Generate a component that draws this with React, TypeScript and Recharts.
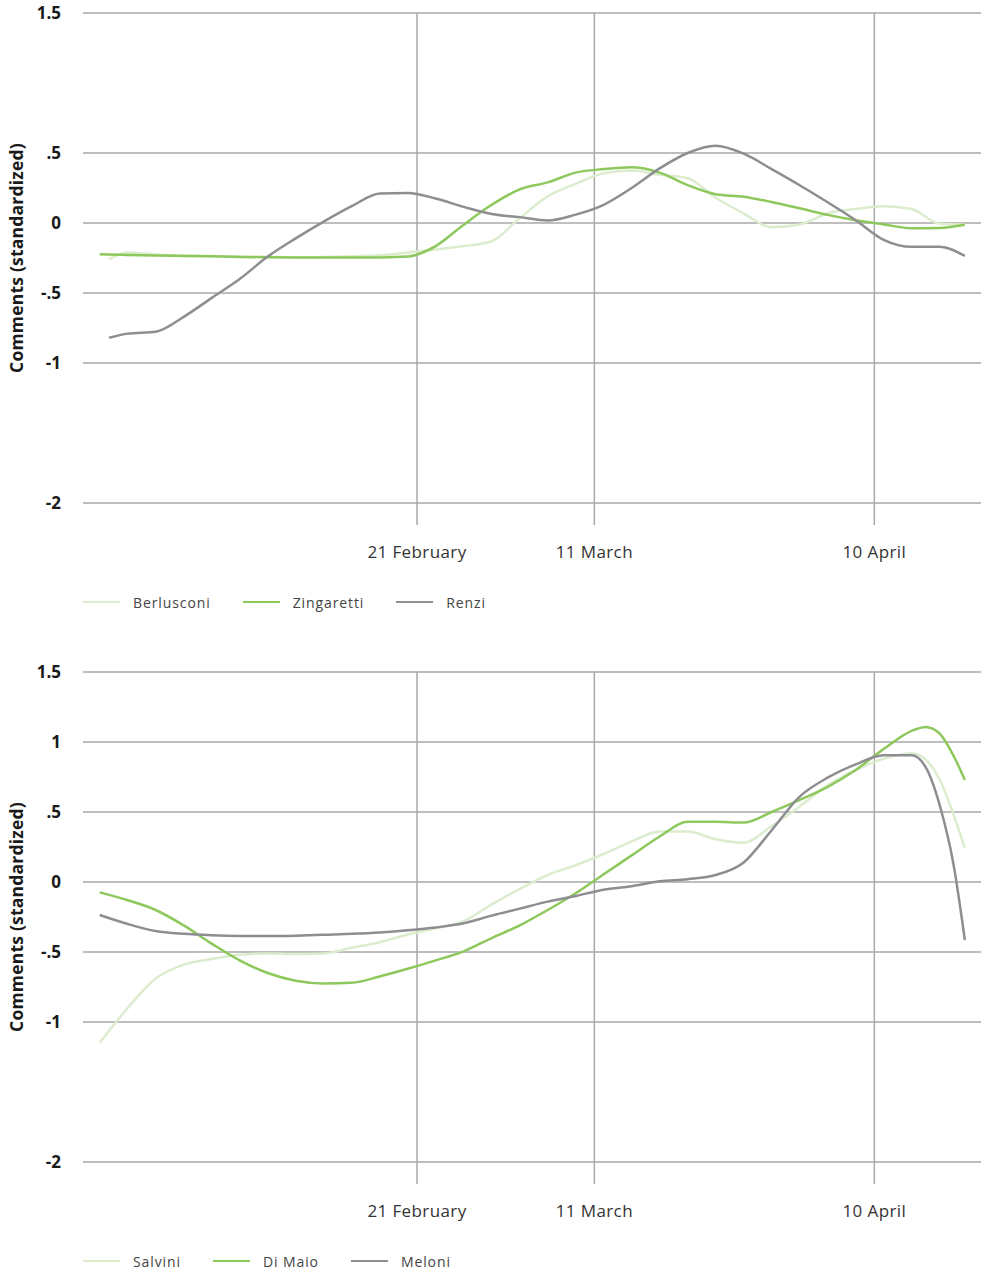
import { LineChart, Line, XAxis, YAxis, CartesianGrid, Legend } from 'recharts'

// day 0 = 21 February 2020
const tickDays = [0, 19, 49]
const tickLabels = ['21 February', '11 March', '10 April']

const topYTicks = [1.5, 0.5, 0, -0.5, -1, -2]
const bottomYTicks = [1.5, 1, 0.5, 0, -0.5, -1, -2]

const topDays = [-34, -33, -31, -28, -25, -22, -19, -16, -13, -10, -7, -4, -1, 2, 5, 8, 11, 14, 17, 20, 23, 26, 29, 32, 35, 38, 41, 44, 47, 50, 53, 56, 58.7]
const berlusconi = [null, -0.26, -0.21, -0.225, -0.232, -0.236, -0.24, -0.243, -0.244, -0.242, -0.238, -0.23, -0.21, -0.19, -0.165, -0.13, 0.035, 0.19, 0.28, 0.355, 0.375, 0.345, 0.32, 0.18, 0.068, -0.03, -0.01, 0.07, 0.1, 0.12, 0.1, -0.005, -0.012]
const zingaretti = [-0.224, -0.225, -0.228, -0.232, -0.235, -0.238, -0.242, -0.245, -0.246, -0.247, -0.247, -0.246, -0.24, -0.165, -0.012, 0.13, 0.24, 0.29, 0.36, 0.385, 0.398, 0.36, 0.27, 0.206, 0.188, 0.15, 0.105, 0.058, 0.02, -0.01, -0.037, -0.035, -0.012]
const renzi = [null, -0.82, -0.79, -0.776, -0.67, -0.535, -0.4, -0.24, -0.11, 0.01, 0.12, 0.21, 0.215, 0.175, 0.115, 0.065, 0.042, 0.018, 0.06, 0.13, 0.25, 0.39, 0.5, 0.552, 0.495, 0.385, 0.27, 0.148, 0.02, -0.12, -0.17, -0.17, -0.235]

const bottomDays = [-34, -31, -28, -25, -22, -19, -16, -13, -10, -7, -4, -1, 2, 5, 8, 11, 14, 17, 20, 23, 26, 29, 32, 35, 38, 41, 44, 47, 50, 53, 54.5, 56, 57.5, 58.7]
const salvini = [-1.148, -0.9, -0.69, -0.59, -0.55, -0.52, -0.51, -0.515, -0.51, -0.47, -0.43, -0.375, -0.33, -0.28, -0.16, -0.05, 0.05, 0.12, 0.2, 0.29, 0.36, 0.36, 0.305, 0.28, 0.4, 0.54, 0.69, 0.8, 0.88, 0.92, 0.875, 0.73, 0.48, 0.241]
const diMaio = [-0.074, -0.13, -0.2, -0.31, -0.44, -0.56, -0.65, -0.705, -0.725, -0.72, -0.675, -0.62, -0.56, -0.495, -0.4, -0.31, -0.2, -0.08, 0.055, 0.19, 0.325, 0.43, 0.43, 0.425, 0.5, 0.586, 0.68, 0.8, 0.95, 1.08, 1.108, 1.06, 0.9, 0.729]
const meloni = [-0.236, -0.3, -0.35, -0.37, -0.38, -0.385, -0.386, -0.383, -0.377, -0.37, -0.36, -0.345, -0.325, -0.295, -0.24, -0.19, -0.14, -0.1, -0.055, -0.03, 0.005, 0.02, 0.05, 0.14, 0.37, 0.61, 0.745, 0.84, 0.905, 0.905, 0.82, 0.55, 0.12, -0.414]

const LIGHT = '#dcecce'
const GREEN = '#8dc85c'
const GREY = '#8e8e92'
const GRID = '#a8a8a8'
const FONT = "'Open Sans', sans-serif"

const tickFmtX = (d: number) => tickLabels[tickDays.indexOf(d)] ?? ''
const tickFmtY = (v: number) => {
  if (v === 0) return '0'
  return String(v).replace(/^(-?)0\./, '$1.')
}

const AxisTitle = ({ viewBox }: any) => {
  const cx = 16
  const cy = viewBox.y + 245
  return (
    <text x={cx} y={cy} transform={`rotate(-90 ${cx} ${cy})`} textAnchor="middle" dominantBaseline="central"
      fontFamily={FONT} fontWeight={700} fontSize={17.5} fill="#1a1a1a" letterSpacing={0.2}>
      Comments (standardized)
    </text>
  )
}

type Series = { name: string; values: (number | null)[]; color: string }

const makeLegend = (series: Series[]) => () => (
  <div style={{ display: 'flex', alignItems: 'center', height: 20, fontFamily: FONT, fontSize: 14, color: '#444', letterSpacing: 0.9 }}>
    {series.map((s) => (
      <div key={s.name} style={{ display: 'flex', alignItems: 'center', marginRight: 32 }}>
        <div style={{ width: 37, height: 2.5, background: s.color, marginRight: 13 }} />
        <span>{s.name}</span>
      </div>
    ))}
  </div>
)

function Panel({ days, series, yTicks, height, bottom }: { days: number[]; series: Series[]; yTicks: number[]; height: number; bottom: number }) {
  const rows = days.map((d, i) => {
    const r: Record<string, number | null> = { day: d }
    series.forEach((s) => { r[s.name] = s.values[i] })
    return r
  })
  return (
    <LineChart width={981} height={height} data={rows} margin={{ top: 13, right: 0, left: 0, bottom }}>
      <CartesianGrid stroke={GRID} strokeWidth={1.5} horizontalValues={yTicks} verticalValues={tickDays} />
      <XAxis dataKey="day" type="number" domain={[-35.79, 60.43]} ticks={tickDays} tickFormatter={tickFmtX}
        axisLine={false} tickLine={false} height={67} tickMargin={15} interval={0}
        tick={{ fontFamily: FONT, fontSize: 17, fill: '#333', letterSpacing: 0.4 }} />
      <YAxis type="number" domain={[-2.157, 1.5]} ticks={yTicks} tickFormatter={tickFmtY} width={83}
        axisLine={false} tickLine={false} tickMargin={16} interval={0} allowDataOverflow
        tick={{ fontFamily: FONT, fontWeight: 700, fontSize: 17, fill: '#1a1a1a' }}
        label={{ content: AxisTitle }} />
      <Legend verticalAlign="bottom" align="left" content={makeLegend(series)} wrapperStyle={{ left: 83, width: 700 }} />
      {series.map((s) => (
        <Line key={s.name} type="monotone" dataKey={s.name} stroke={s.color} strokeWidth={2.5} dot={false}
          activeDot={false} isAnimationActive={false} />
      ))}
    </LineChart>
  )
}

export default function App() {
  const top: Series[] = [
    { name: 'Berlusconi', values: berlusconi, color: LIGHT },
    { name: 'Zingaretti', values: zingaretti, color: GREEN },
    { name: 'Renzi', values: renzi, color: GREY },
  ]
  const bottom: Series[] = [
    { name: 'Salvini', values: salvini, color: LIGHT },
    { name: 'Di Maio', values: diMaio, color: GREEN },
    { name: 'Meloni', values: meloni, color: GREY },
  ]
  return (
    <div style={{ position: 'absolute', top: 0, left: 0, width: 981, height: 1273, overflow: 'hidden', background: '#fff' }}>
      <div style={{ position: 'absolute', top: 0, left: 0 }}>
        <Panel days={topDays} series={top} yTicks={topYTicks} height={620} bottom={8} />
      </div>
      <div style={{ position: 'absolute', top: 659, left: 0 }}>
        <Panel days={bottomDays} series={bottom} yTicks={bottomYTicks} height={614} bottom={2} />
      </div>
    </div>
  )
}
